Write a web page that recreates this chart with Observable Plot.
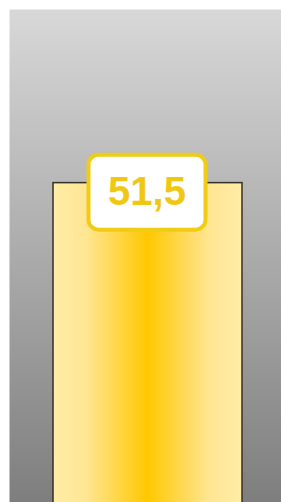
<!DOCTYPE html>
<html>
<head>
<meta charset="utf-8">
<script src="https://cdn.jsdelivr.net/npm/d3@7"></script>
<script src="https://cdn.jsdelivr.net/npm/@observablehq/plot@0.6"></script>
<style>
  html, body { margin: 0; padding: 0; background: #ffffff; }
  svg { display: block; overflow: hidden; }
</style>
</head>
<body>
<script>
const categories = ["A"];
const values = [51.5];
const yMax = 79.5;

const data = categories.map((c, i) => ({cat: c, value: values[i]}));
const fmt = d3.formatLocale({decimal: ",", thousands: ".", grouping: [3], currency: ["", "€"]}).format(".1f");

const chart = Plot.plot({
  width: 281,
  height: 502,
  marginTop: 9,
  marginLeft: 9,
  marginRight: 0,
  marginBottom: 0,
  style: {background: "#ffffff", fontFamily: "Liberation Sans, Arial, sans-serif", overflow: "hidden"},
  x: {domain: categories, axis: null, paddingInner: 0, paddingOuter: 0.216, align: 0.525},
  y: {domain: [0, yMax], axis: null},
  marks: [
    Plot.frame({fill: "url(#bgGrad)", stroke: "none"}),
    Plot.barY(data, {x: "cat", y: "value", fill: "url(#barGrad)", stroke: "#333025", strokeWidth: 1.5, insetBottom: -4, className: "valueBar"}),
    Plot.text(data, {
      x: "cat", y: "value", text: d => fmt(d.value), dy: 9, dx: -1,
      fill: "#f0c814", fontSize: 40, fontWeight: "bold",
      fontFamily: "Liberation Sans, Arial, sans-serif",
      className: "valueLabel"
    })
  ]
});

const ns = "http://www.w3.org/2000/svg";
const defs = document.createElementNS(ns, "defs");
defs.innerHTML = `
  <linearGradient id="bgGrad" x1="0" y1="0" x2="0" y2="1">
    <stop offset="0" stop-color="#d8d8d8"/>
    <stop offset="1" stop-color="#7e7e7e"/>
  </linearGradient>
  <linearGradient id="barGrad" x1="0" y1="0" x2="1" y2="0">
    <stop offset="0" stop-color="#ffeca6"/>
    <stop offset="0.17" stop-color="#ffe694"/>
    <stop offset="0.5" stop-color="#ffc800"/>
    <stop offset="0.83" stop-color="#ffe694"/>
    <stop offset="1" stop-color="#ffeca6"/>
  </linearGradient>`;
chart.insertBefore(defs, chart.firstChild);
document.body.append(chart);

// rounded label box behind the value text, placed relative to the drawn bar
const barRect = chart.querySelector("g.valueBar rect") || chart.querySelector("g[aria-label='bar'] rect");
const g = chart.querySelector("g.valueLabel") || chart.querySelector("g[aria-label='text']");
if (g && barRect) {
  const bx = +barRect.getAttribute("x"), by = +barRect.getAttribute("y"), bw = +barRect.getAttribute("width");
  const w = 117, h = 75;
  const r = document.createElementNS(ns, "rect");
  r.setAttribute("x", bx + bw / 2 - 0.5 - w / 2);
  r.setAttribute("y", by - 28);
  r.setAttribute("width", w);
  r.setAttribute("height", h);
  r.setAttribute("rx", 10);
  r.setAttribute("fill", "#ffffff");
  r.setAttribute("stroke", "#f0cc14");
  r.setAttribute("stroke-width", 4);
  g.parentNode.insertBefore(r, g);
}
</script>
</body>
</html>
